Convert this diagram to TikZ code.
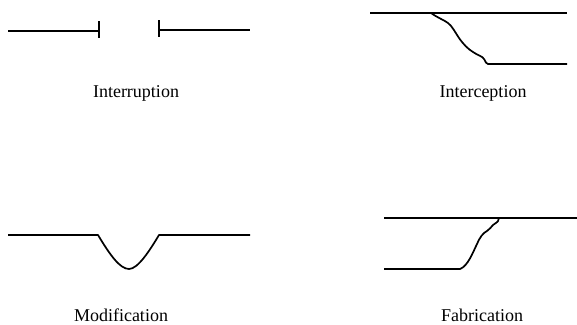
\documentclass[tikz,border=0pt]{standalone}
\usepackage{fontspec}
\setmainfont{Liberation Serif}
\begin{document}
\begin{tikzpicture}[x=1pt,y=-1pt,
  wire/.style={line width=1.7pt,line join=round},
  lbl/.style={font=\fontsize{18}{20}\selectfont,inner sep=0pt}]
\useasboundingbox (0,0) rectangle (577,324);
% Interruption
\draw[wire] (8,31) -- (99,31);
\draw[wire] (99,21) -- (99,38);
\draw[wire] (159,20) -- (159,37);
\draw[wire] (159,30) -- (250,30);
\node[lbl] (l1) at (136,93) {Interruption};
% Interception
\draw[wire] (370,13) -- (567,13);
\draw[wire] (431,13) .. controls (438,18) and (444,20) .. (448,23)
  .. controls (452,26) and (455,32) .. (459,38)
  .. controls (464,45) and (468,49) .. (473,52)
  .. controls (479,56) and (482,56) .. (484,59)
  .. controls (486,62) and (486,64) .. (488,64) -- (567,64);
\node[lbl] (l2) at (483,93) {Interception};
% Modification
\draw[wire] (8,235) -- (98,235) .. controls (110,255) and (120,269) .. (129,269)
  .. controls (138,269) and (150,250) .. (159,235) -- (250,235);
\node[lbl] (l3) at (121,315) {Modification};
% Fabrication
\draw[wire] (384,218) -- (577,218);
\draw[wire] (384,269) -- (460,269)
  .. controls (468,266) and (473,252) .. (477,244)
  .. controls (480,237) and (483,233) .. (487,231)
  .. controls (490,229) and (491,227) .. (493,225)
  .. controls (495,222) and (498,224) .. (499,218);
\node[lbl] (l4) at (482,315) {Fabrication};
\end{tikzpicture}
\end{document}
